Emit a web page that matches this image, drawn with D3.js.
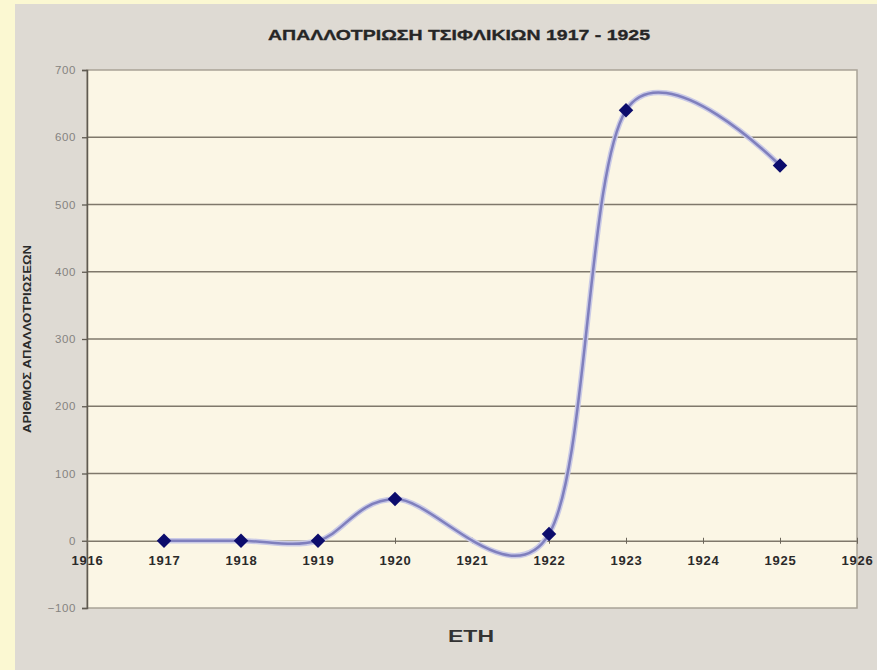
<!DOCTYPE html>
<html>
<head>
<meta charset="utf-8">
<script src="https://cdn.jsdelivr.net/npm/d3@7"></script>
<style>
  body { margin: 0; background: #dedad3; }
  svg { display: block; font-family: "Liberation Sans", Arial, sans-serif; }
</style>
</head>
<body>
<div id="chart"></div>
<script>
// --- data ---
const years = [1917, 1918, 1919, 1920, 1922, 1923, 1925];
const counts = [0, 0, 0, 62, 10, 640, 558];
const xTicks = [1916, 1917, 1918, 1919, 1920, 1921, 1922, 1923, 1924, 1925, 1926];
const yTicks = [-100, 0, 100, 200, 300, 400, 500, 600, 700];
const title = "ΑΠΑΛΛΟΤΡΙΩΣΗ ΤΣΙΦΛΙΚΙΩΝ 1917 - 1925";
const xTitle = "ΕΤΗ";
const yTitle = "ΑΡΙΘΜΟΣ ΑΠΑΛΛΟΤΡΙΩΣΕΩΝ";

const W = 877, H = 670;
const plot = { left: 87, right: 857, top: 70, bottom: 608 };

const svg = d3.select("#chart").append("svg")
  .attr("width", W)
  .attr("height", H);

// background + yellow page edge
svg.append("rect").attr("width", W).attr("height", H).attr("fill", "#dedad3");
svg.append("rect").attr("width", 15).attr("height", H).attr("fill", "#fbf8d2");
svg.append("rect").attr("width", W).attr("height", 4).attr("fill", "#fbf8d2");

// --- scales ---
const x = d3.scaleLinear().domain([1916, 1926]).range([plot.left, plot.right]);
const y = d3.scaleLinear().domain([-100, 700]).range([plot.bottom, plot.top]);

// plot area
svg.append("rect")
  .attr("x", plot.left).attr("y", plot.top)
  .attr("width", plot.right - plot.left).attr("height", plot.bottom - plot.top)
  .attr("fill", "#fbf6e5")
  .attr("stroke", "#a9a397")
  .attr("stroke-width", 1.5);

// horizontal gridlines
svg.append("g").selectAll("line")
  .data(yTicks.filter(d => d > 0 && d < 700))
  .join("line")
  .attr("x1", plot.left).attr("x2", plot.right)
  .attr("y1", d => y(d)).attr("y2", d => y(d))
  .attr("stroke", "#7f786b")
  .attr("stroke-width", 1.3);

// y axis
const yAxis = d3.axisLeft(y).tickValues(yTicks).tickSize(5).tickPadding(6);
const gy = svg.append("g")
  .attr("transform", `translate(${plot.left},0)`)
  .call(yAxis);
gy.select(".domain").attr("stroke", "#5f5a51").attr("stroke-width", 1.5);
gy.selectAll(".tick line").attr("stroke", "#5f5a51").attr("stroke-width", 1.3);
gy.selectAll(".tick text")
  .attr("fill", "#858380")
  .attr("font-size", 11.5)
  .attr("letter-spacing", 0.6);

// x axis at zero
const xAxis = d3.axisBottom(x).tickValues(xTicks).tickFormat(d3.format("d"))
  .tickSizeInner(3).tickSizeOuter(0).tickPadding(12);
const gx = svg.append("g")
  .attr("transform", `translate(0,${y(0)})`)
  .call(xAxis);
gx.select(".domain").attr("stroke", "#7f786b").attr("stroke-width", 1.5);
gx.selectAll(".tick line").attr("y1", -3).attr("stroke", "#6b655a").attr("stroke-width", 1);
gx.selectAll(".tick text")
  .attr("fill", "#2a2a2a")
  .attr("font-size", 13)
  .attr("font-weight", "bold")
  .attr("letter-spacing", 0.8);

// --- data line (smoothed) ---
const pts = years.map((yr, i) => [yr, counts[i]]);
const line = d3.line()
  .x(d => x(d[0]))
  .y(d => y(d[1]))
  .curve(d3.curveCardinal.tension(0));

svg.append("path")
  .attr("d", line(pts))
  .attr("fill", "none")
  .attr("stroke", "#cacae6")
  .attr("stroke-width", 5.5);
svg.append("path")
  .attr("d", line(pts))
  .attr("fill", "none")
  .attr("stroke", "#7f7fbd")
  .attr("stroke-width", 2.5);

// markers
svg.append("g").selectAll("path")
  .data(pts)
  .join("path")
  .attr("d", d3.symbol(d3.symbolSquare, 105))
  .attr("transform", d => `translate(${x(d[0])},${y(d[1])}) rotate(45)`)
  .attr("fill", "#0c0c6c");

// --- titles ---
svg.append("text")
  .attr("x", 459).attr("y", 40)
  .attr("text-anchor", "middle")
  .attr("font-size", 14)
  .attr("font-weight", "bold")
  .attr("fill", "#262626")
  .attr("stroke", "#262626")
  .attr("stroke-width", 0.3)
  .attr("textLength", 382)
  .attr("lengthAdjust", "spacingAndGlyphs")
  .text(title);

svg.append("text")
  .attr("transform", "translate(31,339) rotate(-90)")
  .attr("text-anchor", "middle")
  .attr("font-size", 11)
  .attr("font-weight", "bold")
  .attr("fill", "#2a2a2a")
  .attr("textLength", 188)
  .attr("lengthAdjust", "spacingAndGlyphs")
  .text(yTitle);

svg.append("text")
  .attr("x", 471).attr("y", 642)
  .attr("text-anchor", "middle")
  .attr("font-size", 17)
  .attr("font-weight", "bold")
  .attr("fill", "#333")
  .attr("textLength", 46)
  .attr("lengthAdjust", "spacingAndGlyphs")
  .text(xTitle);
</script>
</body>
</html>
